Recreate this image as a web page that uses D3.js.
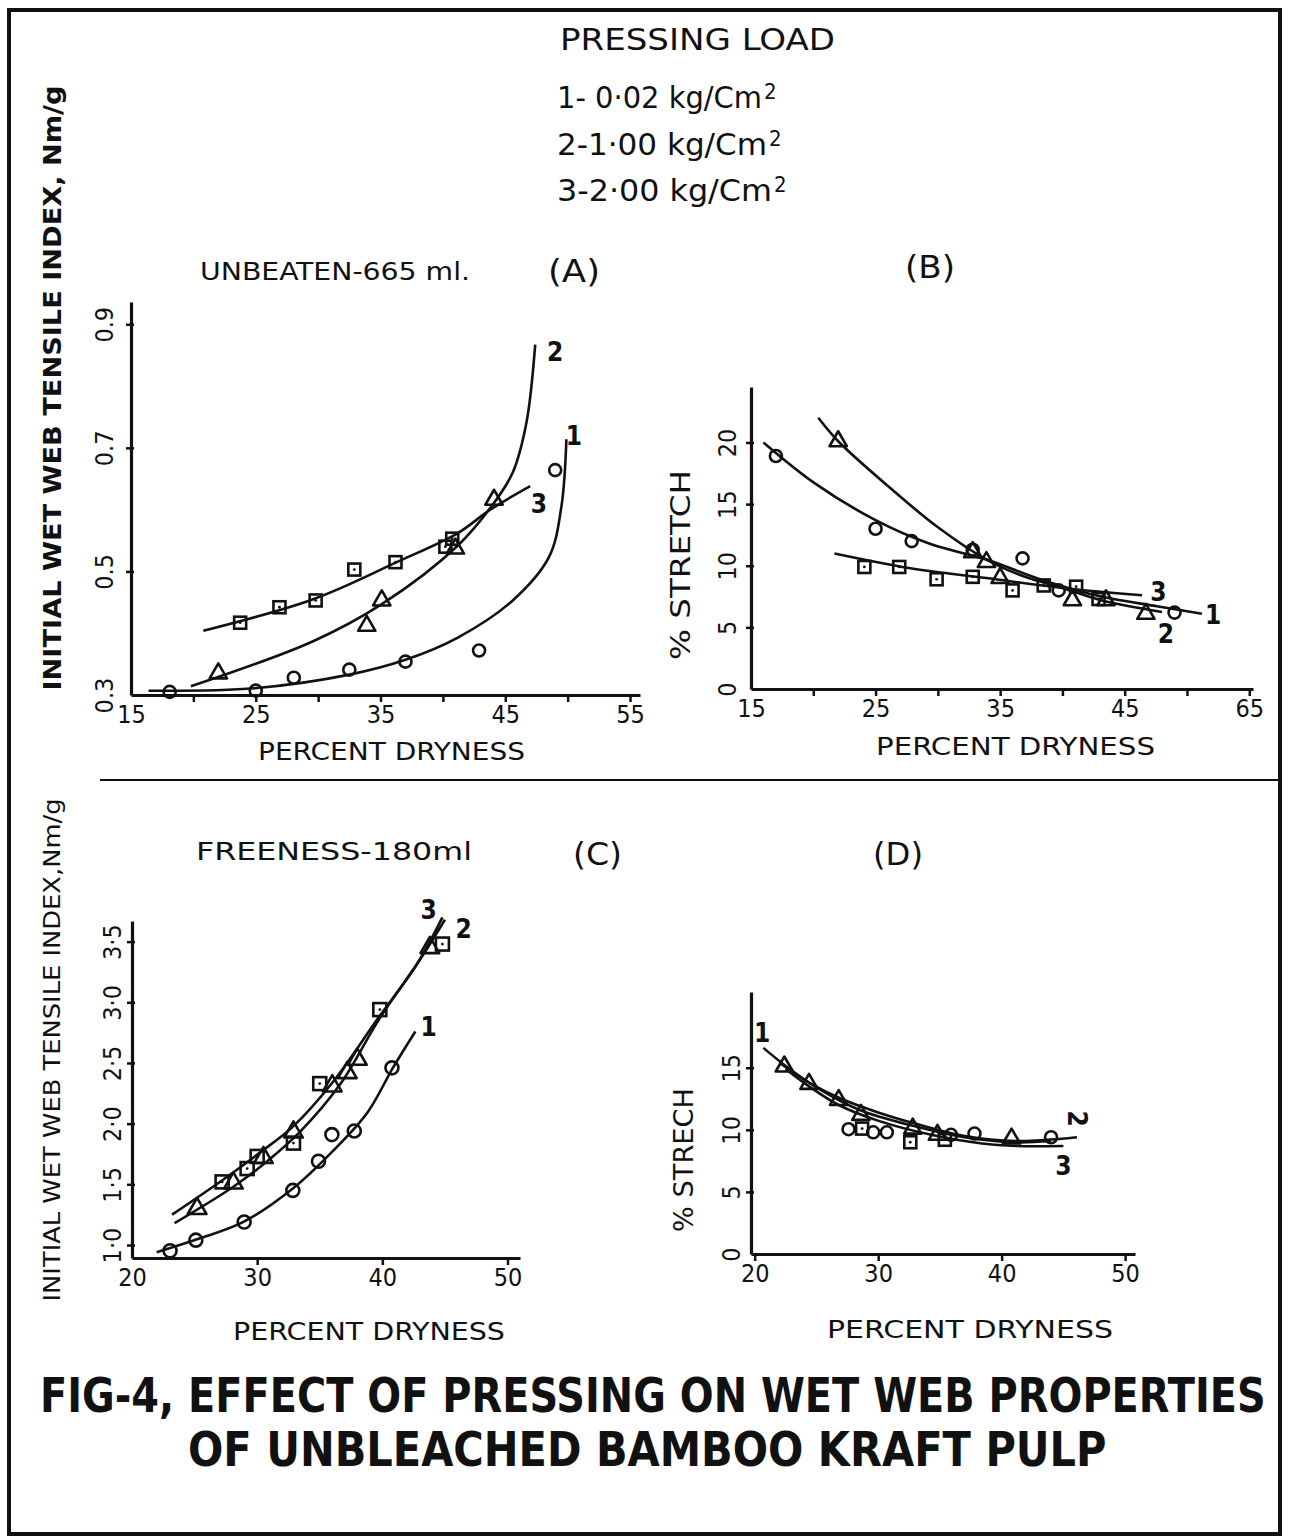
<!DOCTYPE html>
<html>
<head>
<meta charset="utf-8">
<script src="https://cdn.jsdelivr.net/npm/d3@7"></script>
<style>
  body { margin: 0; background: #fff; }
  svg text { fill: #111; }
</style>
</head>
<body>
<div id="chart"></div>
<script>
const WIDTH = 1289;
const HEIGHT = 1538;
const FONT = '"DejaVu Sans Condensed", "DejaVu Sans", sans-serif';

// Legend
const legendTitle = 'PRESSING LOAD';
const legendItems = ['1- 0·02 kg/Cm', '2-1·00 kg/Cm', '3-2·00 kg/Cm'];

// Panel A: unbeaten, tensile index vs dryness
const aCircles = [[18.1, 0.305], [25.0, 0.307], [28.05, 0.328], [32.5, 0.341], [37.0, 0.354], [42.9, 0.372], [49.0, 0.664]];
const aTriangles = [[22.0, 0.335], [33.9, 0.412], [35.1, 0.453], [41.0, 0.537], [44.1, 0.616]];
const aSquares = [[23.75, 0.417], [26.9, 0.442], [29.8, 0.453], [32.9, 0.503], [36.2, 0.515], [40.75, 0.553], [40.2, 0.54]];
const aCurve1 = [[16.4, 0.307], [24.9, 0.311], [32.5, 0.333], [37.0, 0.357], [41.2, 0.393], [45.6, 0.453], [48.5, 0.523], [49.5, 0.605], [49.9, 0.714]];
const aCurve2 = [[19.8, 0.314], [29.6, 0.387], [35.1, 0.447], [41.2, 0.542], [44.1, 0.611], [45.6, 0.66], [46.7, 0.741], [47.4, 0.867]];
const aCurve3 = [[20.8, 0.404], [29.6, 0.455], [36.3, 0.515], [41.2, 0.562], [43.8, 0.6], [47.0, 0.638]];
const aCurveLabels = [['2', 49.0, 0.856], ['1', 50.5, 0.72], ['3', 47.7, 0.61]];
const aXTicks = [15, 20, 25, 30, 35, 40, 45, 50, 55];
const aXLabelValues = [15, 25, 35, 45, 55];
const aXLabels = ['15', '25', '35', '45', '55'];
const aYTicks = [0.3, 0.5, 0.7, 0.9];
const aYLabels = ['0.3', '0.5', '0.7', '0.9'];

// Panel B: unbeaten, stretch vs dryness
const bCircles = [[17.0, 18.9], [25.0, 13.0], [27.9, 12.0], [32.8, 11.3], [36.8, 10.6], [39.7, 8.0], [49.0, 6.2]];
const bTriangles = [[22.0, 20.1], [32.8, 11.1], [33.9, 10.3], [35.0, 9.0], [40.8, 7.2], [43.5, 7.2], [46.7, 6.1]];
const bSquares = [[24.1, 9.9], [26.9, 9.9], [29.9, 8.9], [32.8, 9.1], [36.0, 8.0], [38.5, 8.4], [41.1, 8.3], [42.9, 7.3]];
const bCurve1 = [[16.0, 20.0], [20.1, 16.7], [25.0, 13.7], [29.3, 11.8], [33.9, 10.5], [38.5, 8.8], [43.1, 7.5], [47.7, 6.7], [51.2, 6.1]];
const bCurve2 = [[20.4, 22.0], [22.0, 20.1], [26.3, 16.2], [29.9, 13.2], [33.9, 10.5], [37.0, 9.1], [40.0, 8.2], [43.1, 7.2], [48.0, 6.25]];
const bCurve3 = [[21.7, 11.0], [27.8, 9.8], [33.9, 9.0], [40.0, 8.2], [46.4, 7.6]];
const bCurveLabels = [['1', 52.1, 6.0], ['3', 47.7, 7.9], ['2', 48.3, 4.5]];
const bXTicks = [15, 20, 25, 30, 35, 40, 45, 50, 55];
const bXLabelValues = [15, 25, 35, 45, 55];
const bXLabels = ['15', '25', '35', '45', '65'];
const bYTicks = [0, 5, 10, 15, 20];
const bYLabels = ['0', '5', '10', '15', '20'];

// Panel C: freeness 180 ml, tensile index vs dryness
const cCircles = [[23.04, 0.953], [25.1, 1.04], [28.96, 1.19], [32.85, 1.45], [34.9, 1.69], [35.97, 1.91], [37.76, 1.94], [40.77, 2.46]];
const cTriangles = [[25.2, 1.30], [28.1, 1.51], [30.5, 1.72], [32.9, 1.93], [36.0, 2.31], [37.2, 2.42], [38.0, 2.53], [43.8, 3.45]];
const cSquares = [[27.2, 1.52], [29.2, 1.63], [30.0, 1.73], [32.9, 1.84], [35.0, 2.33], [39.8, 2.94], [44.8, 3.48]];
const cCurve1 = [[21.97, 0.94], [25.44, 1.055], [28.9, 1.19], [32.9, 1.47], [36.1, 1.78], [38.8, 2.09], [40.9, 2.47], [42.64, 2.76]];
const cCurve2 = [[23.4, 1.18], [28.1, 1.48], [30.8, 1.69], [33.4, 1.93], [36.6, 2.32], [39.8, 2.87], [43.0, 3.35], [45.0, 3.68]];
const cCurve3 = [[23.2, 1.25], [27.3, 1.54], [30.2, 1.76], [32.9, 1.98], [36.1, 2.35], [39.6, 2.86], [42.8, 3.32], [44.8, 3.70]];
const cCurveLabels = [['1', 43.7, 2.80], ['3', 43.7, 3.76], ['2', 46.5, 3.61]];
const cXTicks = [20, 30, 40, 50];
const cXLabelValues = [20, 30, 40, 50];
const cXLabels = ['20', '30', '40', '50'];
const cYTicks = [1.0, 1.5, 2.0, 2.5, 3.0, 3.5];
const cYLabels = ['1·0', '1·5', '2·0', '2·5', '3·0', '3·5'];

// Panel D: freeness 180 ml, stretch vs dryness
const dCircles = [[27.6, 10.05], [29.6, 9.8], [30.7, 9.8], [35.9, 9.6], [37.8, 9.7], [44.0, 9.4]];
const dTriangles = [[22.4, 15.1], [24.4, 13.7], [26.8, 12.4], [28.6, 11.2], [32.8, 10.1], [34.8, 9.6], [40.8, 9.3]];
const dSquares = [[28.7, 10.1], [32.6, 9.0], [35.4, 9.2]];
const dCurve1 = [[20.7, 16.6], [22.7, 15.0], [25.2, 13.3], [28.5, 11.6], [32.9, 10.3], [37.0, 9.4], [41.0, 9.0], [44.0, 9.1]];
const dCurve2 = [[22.0, 15.4], [24.4, 13.8], [27.0, 12.5], [30.0, 11.4], [33.0, 10.5], [37.0, 9.5], [41.2, 9.1], [46.1, 9.4]];
const dCurve3 = [[22.5, 14.9], [24.4, 13.5], [26.8, 12.0], [30.1, 10.7], [34.3, 9.6], [38.4, 8.9], [41.2, 8.7], [45.0, 8.7]];
const dCurveLabels = [['1', 20.6, 17.8], ['2', 46.1, 10.9], ['3', 45.0, 7.1]];
const dXTicks = [20, 30, 40, 50];
const dXLabelValues = [20, 30, 40, 50];
const dXLabels = ['20', '30', '40', '50'];
const dYTicks = [0, 5, 10, 15];
const dYLabels = ['0', '5', '10', '15'];

const svg = d3.select('#chart').append('svg')
  .attr('width', WIDTH)
  .attr('height', HEIGHT)
  .attr('font-family', FONT);

svg.append('rect').attr('width', WIDTH).attr('height', HEIGHT).attr('fill', '#fff');

// Outer frame
svg.append('rect')
  .attr('x', 9).attr('y', 10)
  .attr('width', 1271).attr('height', 1524)
  .attr('fill', 'none').attr('stroke', '#111').attr('stroke-width', 4);

// Separator between the two rows
svg.append('line')
  .attr('x1', 100).attr('x2', 1280)
  .attr('y1', 780).attr('y2', 780)
  .attr('stroke', '#111').attr('stroke-width', 2);

function addText(str, x, y, size, opts = {}) {
  const t = svg.append('text')
    .attr('x', x).attr('y', y)
    .attr('font-size', size)
    .attr('text-anchor', opts.anchor || 'start')
    .attr('font-weight', opts.weight || 'normal')
    .text(str);
  if (opts.length) t.attr('textLength', opts.length).attr('lengthAdjust', 'spacingAndGlyphs');
  if (opts.rotate) t.attr('transform', `rotate(${opts.rotate},${x},${y})`);
  if (opts.family) t.attr('font-family', opts.family);
  return t;
}

// squeeze a text horizontally with a transform so its real box is the wanted width
function fitText(str, x, y, size, width, family) {
  const t = svg.append('text')
    .attr('x', 0).attr('y', 0)
    .attr('font-size', size)
    .attr('font-weight', 'bold')
    .attr('font-family', family)
    .text(str);
  const natural = t.node().getComputedTextLength();
  t.attr('transform', `translate(${x},${y}) scale(${width / natural},1)`);
  return t;
}

// Legend
addText(legendTitle, 560, 50, 30, {length: 275});
const legendX = [557, 557, 557];
const legendY = [108, 155, 201];
const legendLen = [205, 210, 215];
legendItems.forEach((s, i) => {
  addText(s, legendX[i], legendY[i], 30, {length: legendLen[i]});
  svg.append('text')
    .attr('x', legendX[i] + legendLen[i] + 2).attr('y', legendY[i] - 9)
    .attr('font-size', 22).text('2');
});

// Row headings
addText('UNBEATEN-665 ml.', 200, 280, 24, {length: 270});
addText('(A)', 548, 282, 32, {length: 52});
addText('(B)', 905, 278, 32, {length: 50});
addText('FREENESS-180ml', 196, 860, 24, {length: 276});
addText('(C)', 573, 865, 32, {length: 49});
addText('(D)', 873, 865, 32, {length: 50});

// Shared y-axis titles
addText('INITIAL WET WEB  TENSILE  INDEX, Nm/g', 61, 388, 25,
  {anchor: 'middle', weight: 'bold', rotate: -90, length: 605});
addText('INITIAL WET WEB TENSILE INDEX,Nm/g', 60, 1050, 23,
  {anchor: 'middle', rotate: -90, length: 503});

// Figure caption
const captionFont = '"DejaVu Sans", sans-serif';
fitText('FIG-4, EFFECT OF PRESSING ON WET WEB PROPERTIES', 40, 1412, 48, 1226, captionFont);
fitText('OF UNBLEACHED BAMBOO KRAFT PULP', 188, 1466, 48, 919, captionFont);

function drawPanel(p) {
  const x = d3.scaleLinear().domain(p.xDomain).range(p.xRange);
  const y = d3.scaleLinear().domain(p.yDomain).range(p.yRange);
  const g = svg.append('g');

  const xAxis = d3.axisBottom(x)
    .tickValues(p.xTicks)
    .tickFormat(d => {
      const i = p.xLabelValues.indexOf(d);
      return i >= 0 ? p.xLabels[i] : '';
    })
    .tickSize(7)
    .tickSizeOuter(0)
    .tickPadding(3);

  const xg = g.append('g')
    .attr('transform', `translate(0,${p.yRange[0]})`)
    .call(xAxis);

  const yAxis = d3.axisLeft(y)
    .tickValues(p.yTicks)
    .tickFormat((d, i) => p.yLabels[i])
    .tickSize(5)
    .tickSizeOuter(0);

  const yg = g.append('g')
    .attr('transform', `translate(${p.xRange[0]},0)`)
    .call(yAxis);

  [xg, yg].forEach(a => {
    a.attr('font-family', FONT).attr('font-size', 25);
    a.select('.domain').attr('stroke', '#111').attr('stroke-width', 3.2);
    a.selectAll('.tick line').attr('stroke', '#111').attr('stroke-width', 2.5);
    a.selectAll('.tick text').attr('fill', '#111');
  });

  // vertical tick labels
  yg.selectAll('.tick text')
    .attr('x', 0)
    .attr('y', -p.yLabelOffset)
    .attr('dy', '0.36em')
    .attr('text-anchor', 'middle')
    .attr('transform', 'rotate(-90)');
  yg.selectAll('.tick line').attr('x1', 3);
  yg.selectAll('.tick').filter(d => d === p.yDomain[0]).select('line').remove();
  xg.selectAll('.tick').filter(d => d === p.xDomain[0]).select('line').remove();

  // axis titles
  g.append('text')
    .attr('x', (p.xTitle.x))
    .attr('y', p.xTitle.y)
    .attr('font-size', 24)
    .attr('textLength', p.xTitle.len)
    .attr('lengthAdjust', 'spacingAndGlyphs')
    .text('PERCENT DRYNESS');

  if (p.yTitle) {
    g.append('text')
      .attr('x', 0).attr('y', 0)
      .attr('transform', `translate(${p.yTitle.x},${p.yTitle.y}) rotate(-90)`)
      .attr('text-anchor', 'middle')
      .attr('font-size', 27)
      .attr('textLength', p.yTitle.len)
      .attr('lengthAdjust', 'spacingAndGlyphs')
      .text(p.yTitle.text);
  }

  const line = d3.line()
    .x(d => x(d[0]))
    .y(d => y(d[1]))
    .curve(d3.curveCatmullRom.alpha(0.5));

  g.selectAll('path.curve')
    .data(p.curves)
    .join('path')
    .attr('class', 'curve')
    .attr('d', line)
    .attr('fill', 'none')
    .attr('stroke', '#111')
    .attr('stroke-width', 2.6);

  g.selectAll('circle.pt')
    .data(p.circles)
    .join('circle')
    .attr('class', 'pt')
    .attr('cx', d => x(d[0]))
    .attr('cy', d => y(d[1]))
    .attr('r', p.markerR)
    .attr('fill', 'none')
    .attr('stroke', '#111')
    .attr('stroke-width', 2.6);

  const tri = d3.symbol().type(d3.symbolTriangle).size(p.markerR * p.markerR * 3.6);
  g.selectAll('path.tri')
    .data(p.triangles)
    .join('path')
    .attr('class', 'tri')
    .attr('d', tri)
    .attr('transform', d => `translate(${x(d[0])},${y(d[1])})`)
    .attr('fill', 'none')
    .attr('stroke', '#111')
    .attr('stroke-width', 2.6)
    .attr('stroke-linejoin', 'round');

  const s = p.markerR * 2;
  g.selectAll('rect.sq')
    .data(p.squares)
    .join('rect')
    .attr('class', 'sq')
    .attr('x', d => x(d[0]) - s / 2)
    .attr('y', d => y(d[1]) - s / 2)
    .attr('width', s)
    .attr('height', s)
    .attr('fill', 'none')
    .attr('stroke', '#111')
    .attr('stroke-width', 2.6);

  g.selectAll('circle.dot')
    .data(p.squares)
    .join('circle')
    .attr('class', 'dot')
    .attr('cx', d => x(d[0]))
    .attr('cy', d => y(d[1]))
    .attr('r', 1.4)
    .attr('fill', '#111');

  g.selectAll('text.clabel')
    .data(p.curveLabels)
    .join('text')
    .attr('class', 'clabel')
    .attr('x', d => x(d[1]))
    .attr('y', d => y(d[2]))
    .attr('dy', '0.36em')
    .attr('text-anchor', 'middle')
    .attr('font-size', 26)
    .attr('font-weight', 'bold')
    .attr('transform', d => (p.rotatedLabel === d[0]) ? `rotate(90,${x(d[1])},${y(d[2])})` : null)
    .text(d => d[0]);
}

drawPanel({
  xDomain: [15, 55.8], xRange: [131, 640],
  yDomain: [0.3, 0.936], yRange: [695, 302],
  xTicks: aXTicks, xLabelValues: aXLabelValues, xLabels: aXLabels,
  yTicks: aYTicks, yLabels: aYLabels, yLabelOffset: 27,
  xTitle: {x: 258, y: 760, len: 267},
  curves: [aCurve1, aCurve2, aCurve3],
  circles: aCircles, triangles: aTriangles, squares: aSquares,
  curveLabels: aCurveLabels, markerR: 6
});

drawPanel({
  xDomain: [15, 55.3], xRange: [751, 1253],
  yDomain: [0, 24.5], yRange: [689, 387],
  xTicks: bXTicks, xLabelValues: bXLabelValues, xLabels: bXLabels,
  yTicks: bYTicks, yLabels: bYLabels, yLabelOffset: 24,
  xTitle: {x: 876, y: 755, len: 279},
  yTitle: {x: 690, y: 565, len: 190, text: '% STRETCH'},
  curves: [bCurve1, bCurve2, bCurve3],
  circles: bCircles, triangles: bTriangles, squares: bSquares,
  curveLabels: bCurveLabels, markerR: 6
});

drawPanel({
  xDomain: [20, 51], xRange: [132, 520],
  yDomain: [0.893, 3.67], yRange: [1258, 921],
  xTicks: cXTicks, xLabelValues: cXLabelValues, xLabels: cXLabels,
  yTicks: cYTicks, yLabels: cYLabels, yLabelOffset: 20,
  xTitle: {x: 233, y: 1340, len: 272},
  curves: [cCurve1, cCurve2, cCurve3],
  circles: cCircles, triangles: cTriangles, squares: cSquares,
  curveLabels: cCurveLabels, markerR: 6.5
});

drawPanel({
  xDomain: [19.7, 50.8], xRange: [751, 1135],
  yDomain: [0, 21.1], yRange: [1254, 992],
  xTicks: dXTicks, xLabelValues: dXLabelValues, xLabels: dXLabels,
  yTicks: dYTicks, yLabels: dYLabels, yLabelOffset: 20,
  xTitle: {x: 827, y: 1338, len: 286},
  yTitle: {x: 693, y: 1160, len: 144, text: '% STRECH'},
  curves: [dCurve1, dCurve2, dCurve3],
  circles: dCircles, triangles: dTriangles, squares: dSquares,
  curveLabels: dCurveLabels, markerR: 6, rotatedLabel: '2'
});
</script>
</body>
</html>
